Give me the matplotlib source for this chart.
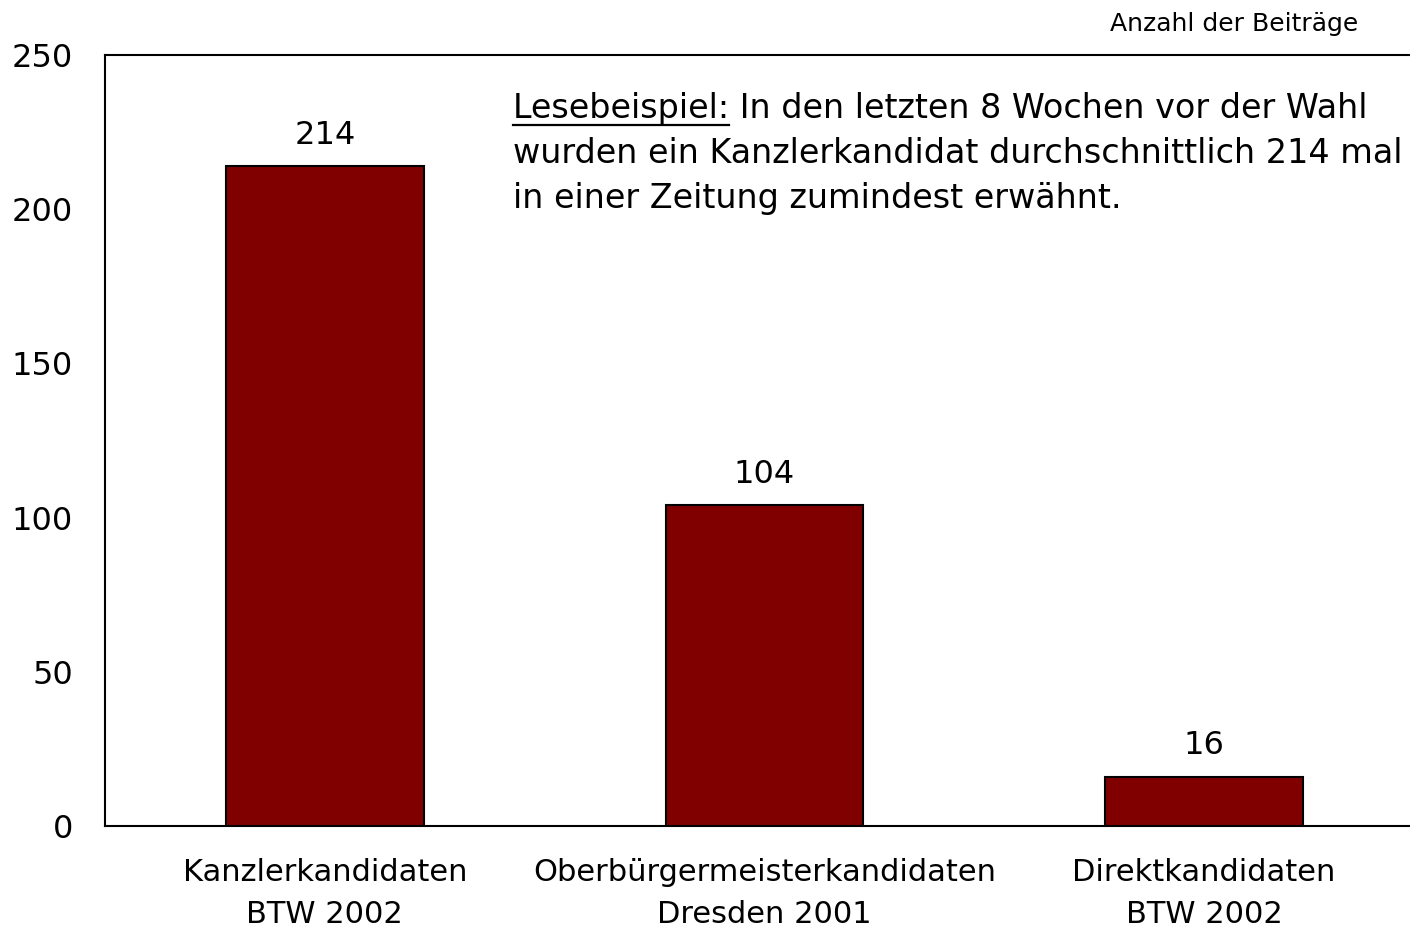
import matplotlib
matplotlib.use("Agg")
import matplotlib.pyplot as plt
from matplotlib.lines import Line2D

categories = ["Kanzlerkandidaten\nBTW 2002", "Oberbürgermeisterkandidaten\nDresden 2001", "Direktkandidaten\nBTW 2002"]
values = [214, 104, 16]
yticks = [0, 50, 100, 150, 200, 250]
note_head = "Lesebeispiel:"
note_lines = ["Lesebeispiel: In den letzten 8 Wochen vor der Wahl",
              "wurden ein Kanzlerkandidat durchschnittlich 214 mal",
              "in einer Zeitung zumindest erwähnt."]

W, H = 1410, 927
fig = plt.figure(figsize=(W/100, H/100), dpi=100)
plt.rcParams['font.family'] = ['DejaVu Sans']
ax = fig.add_axes([105/W, 1-826/H, (1424-105)/W, (826-55)/H])

x = range(len(values))
ax.bar(x, values, width=0.45, color="#800000", edgecolor="black", linewidth=1.5, zorder=3)
ax.set_xlim(-0.5, 2.5)
ax.set_ylim(0, 250)
ax.set_yticks(yticks)
ax.set_xticks(list(x))
ax.set_xticklabels(categories, fontsize=22, linespacing=1.55)
ax.tick_params(axis='y', length=0, labelsize=23, pad=23)
ax.tick_params(axis='x', length=0, pad=23)
for s in ["left", "top", "bottom"]:
    ax.spines[s].set_linewidth(1.5)
ax.spines["right"].set_visible(False)

for xi, v in zip(x, values):
    ax.annotate(str(v), (xi, v), xytext=(0, 11), textcoords="offset points",
                ha="center", va="bottom", fontsize=23)

fig.text(1358/W, 1-24/H, "Anzahl der Beiträge", ha="right", va="center", fontsize=18)

tx = 513/W
baselines = [118, 163, 208]
for line, b in zip(note_lines, baselines):
    fig.text(tx, 1-b/H, line, ha="left", va="baseline", fontsize=24)
meas = fig.text(tx, 1-baselines[0]/H, note_head, ha="left", va="baseline", fontsize=24, alpha=0)
fig.canvas.draw()
bb = meas.get_window_extent()
x0, x1 = bb.x0 / W, bb.x1 / W
uy = 1 - 125/H
fig.add_artist(Line2D([x0, x1], [uy, uy], color="black", linewidth=1.6, transform=fig.transFigure))

fig.savefig("out.png", dpi=100)
